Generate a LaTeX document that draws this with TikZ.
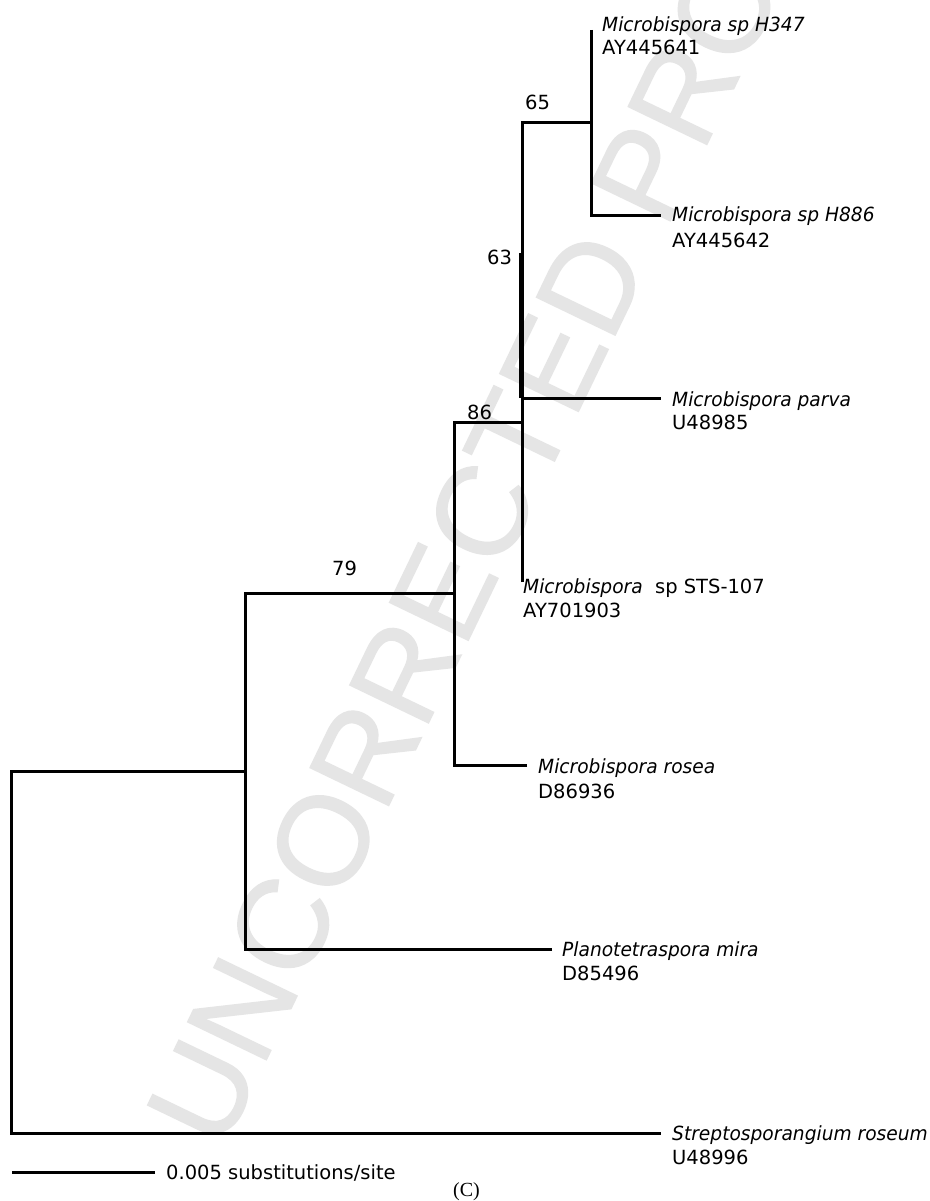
\documentclass[tikz,border=0pt]{standalone}
\usepackage{fontspec}
\setmainfont{DejaVu Sans}[ItalicFeatures={FakeStretch=0.955}]
\newfontfamily\wmfont[FakeBold=1]{Liberation Sans}
\newfontfamily\capfont{Liberation Serif}
\definecolor{wmgray}{RGB}{229,229,229}
\begin{document}
\begin{tikzpicture}[x=1pt,y=-1pt,
  br/.style={line width=3pt, line join=miter, line cap=butt},
  lab/.style={anchor=base west, inner sep=0pt, font=\fontsize{19.5}{23}\selectfont},
  boot/.style={anchor=base west, inner sep=0pt, font=\fontsize{19.5}{23}\selectfont},
  wmark/.style={anchor=base west, inner sep=0pt, rotate=64.3, text=wmgray,
    font=\wmfont\fontsize{127}{127}\selectfont}]
\useasboundingbox (0,0) rectangle (929,1201);
\fill[white] (0,0) rectangle (929,1201);
% watermark
\node[wmark] (wm) at (222,1152) {UNCORRECTED PROOF};
% junction coordinates
\coordinate (R1) at (11,771);
\coordinate (R2) at (11,1133);
\coordinate (A0) at (245,771);
\coordinate (A1) at (245,593);
\coordinate (A2) at (245,949);
\coordinate (B0) at (454,593);
\coordinate (B1) at (454,422);
\coordinate (B2) at (454,765);
\coordinate (C0) at (522,422);
\coordinate (C1) at (522,123);
\coordinate (C2) at (522,582);
\coordinate (Cp) at (522,398);
\coordinate (C63) at (522,253);
\coordinate (D0) at (591,123);
\coordinate (D1) at (591,30);
\coordinate (D2) at (591,215);
\coordinate (Lstrep) at (661,1133);
\coordinate (Lplano) at (552,949);
\coordinate (Lrosea) at (527,765);
\coordinate (Lparva) at (661,398);
\coordinate (Lh886) at (661,215);
\coordinate (S1) at (12,1172);
\coordinate (S2) at (155,1172);
% branches
\draw[br] (A0) -- (R1) -- (R2) -- (Lstrep);
\draw[br] (Lplano) -- (A2) -- (A1) -- (B0);
\draw[br] (Lrosea) -- (B2) -- (B1) -- (C0);
\draw[br] (C2) -- (C1) -- (D0);
\draw[br] (Cp) -- (Lparva);
\draw[br] (D1) -- (D2) -- (Lh886);
\draw[line width=2.4pt] ([xshift=-1.6pt]C63) -- ([xshift=-1.6pt]Cp);
% scale bar
\draw[br] (S1) -- (S2);
\node[lab] (scl) at (166,1179) {0.005 substitutions/site};
% bootstrap values
\node[boot] (b65) at (525,110) {65};
\node[boot] (b63) at (487,264) {63};
\node[boot] (b86) at (467,419) {86};
\node[boot] (b79) at (332,575) {79};
% leaf labels
\node[lab] (t1) at (602,32) {\itshape Microbispora sp H347};
\node[lab] (a1) at (602,55) {AY445641};
\node[lab] (t2) at (672,222) {\itshape Microbispora sp H886};
\node[lab] (a2) at (672,247) {AY445642};
\node[lab] (t3) at (672,406) {\itshape Microbispora parva};
\node[lab] (a3) at (672,429) {U48985};
\node[lab] (t4) at (523,593) {\textit{Microbispora}\ \ sp STS-107};
\node[lab] (a4) at (523,617) {AY701903};
\node[lab] (t5) at (538,773) {\itshape Microbispora rosea};
\node[lab] (a5) at (538,798) {D86936};
\node[lab] (t6) at (562,956) {\itshape Planotetraspora mira};
\node[lab] (a6) at (562,980) {D85496};
\node[lab] (t7) at (672,1140) {\itshape Streptosporangium roseum};
\node[lab] (a7) at (672,1164) {U48996};
% caption
\node[anchor=base, inner sep=0pt, font=\capfont\fontsize{20}{22}\selectfont] (cap) at (466.5,1196) {(C)};
\end{tikzpicture}
\end{document}
